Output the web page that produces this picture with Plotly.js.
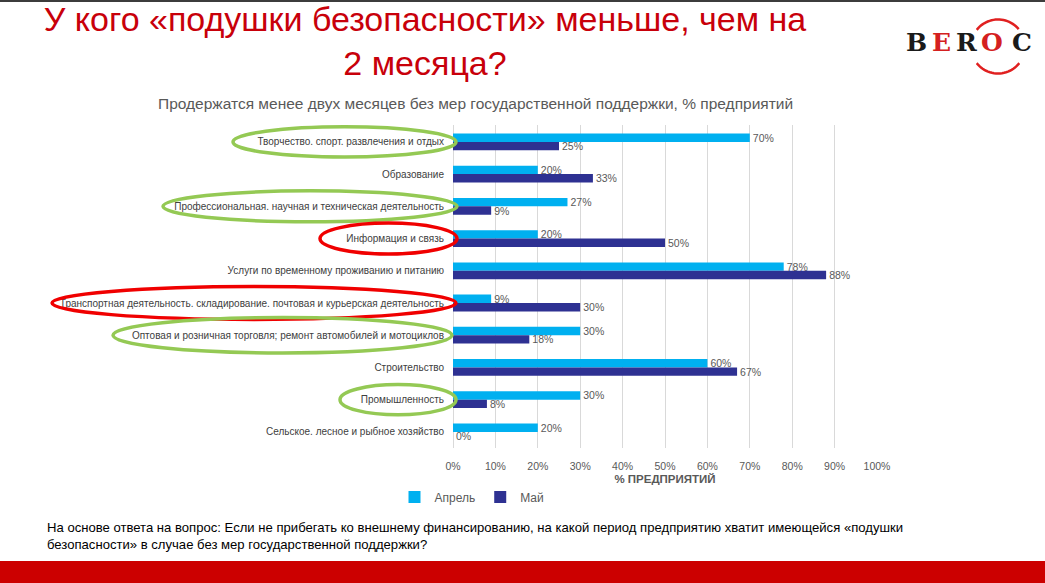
<!DOCTYPE html>
<html>
<head>
<meta charset="utf-8">
<script src="https://cdn.plot.ly/plotly-3.0.1.min.js"></script>
<style>html,body{margin:0;padding:0;background:#fff;}#chart{width:1045px;height:583px;}</style>
</head>
<body>
<div id="chart"></div>
<script>
const categories = [
  "Творчество. спорт. развлечения и отдых",
  "Образование",
  "Профессиональная. научная и техническая деятельность",
  "Информация и связь",
  "Услуги по временному проживанию и питанию",
  "Транспортная деятельность. складирование. почтовая и курьерская деятельность",
  "Оптовая и розничная торговля; ремонт автомобилей и мотоциклов",
  "Строительство",
  "Промышленность",
  "Сельское. лесное и рыбное хозяйство"
];
const seriesNames = ["Апрель", "Май"];
const aprilValues = [70, 20, 27, 20, 78, 9, 30, 60, 30, 20];
const mayValues = [25, 33, 9, 50, 88, 30, 18, 67, 8, 0];
const xTickValues = [0, 10, 20, 30, 40, 50, 60, 70, 80, 90, 100];
const xTickLabels = ["0%", "10%", "20%", "30%", "40%", "50%", "60%", "70%", "80%", "90%", "100%"];

// highlighted categories (index, colour)
const highlighted = [
  {i: 0, c: "green"}, {i: 2, c: "green"}, {i: 3, c: "red"},
  {i: 5, c: "red"}, {i: 6, c: "green"}, {i: 8, c: "green"}
];

// ---- layout geometry (pixels) ----
const W = 1045, H = 583;
const M = {l: 453, r: 168, t: 125, b: 135};
const PW = W - M.l - M.r, PH = H - M.t - M.b;
const xp = px => (px - M.l) / PW;
const yp = py => (H - M.b - py) / PH;

const GREEN = "#94C954", RED = "#F00000";
// ellipse extents (left/right pixel and half height in category units)
const ellipseGeom = [
  {x0: 233, x1: 456, h: 0.47},
  {x0: 163, x1: 457, h: 0.48},
  {x0: 320, x1: 457, h: 0.48},
  {x0: 52,  x1: 456, h: 0.51},
  {x0: 113, x1: 452, h: 0.55},
  {x0: 340, x1: 456, h: 0.47}
];

const shapes = [];
highlighted.forEach((hl, k) => {
  const g = ellipseGeom[k];
  shapes.push({
    type: "circle", xref: "paper", yref: "y",
    x0: xp(g.x0), x1: xp(g.x1), y0: hl.i - g.h, y1: hl.i + g.h,
    line: {color: hl.c === "green" ? GREEN : RED, width: 3.5},
    layer: "above"
  });
});

// top thin line and bottom red band
shapes.push({type: "rect", xref: "paper", yref: "paper", x0: xp(0), x1: xp(W), y0: yp(0), y1: yp(2),
  fillcolor: "#3c3c3c", line: {width: 0}});
shapes.push({type: "rect", xref: "paper", yref: "paper", x0: xp(0), x1: xp(W), y0: yp(561), y1: yp(H),
  fillcolor: "#CC0000", line: {width: 0}});

// logo arcs
function arcPath(cx, cy, r, a0, a1) {
  let d = "";
  const n = 24;
  for (let s = 0; s <= n; s++) {
    const a = (a0 + (a1 - a0) * s / n) * Math.PI / 180;
    const px = cx + r * Math.cos(a), py = cy - r * Math.sin(a);
    d += (s === 0 ? "M" : "L") + xp(px).toFixed(5) + "," + yp(py).toFixed(5);
  }
  return d;
}
shapes.push({type: "path", xref: "paper", yref: "paper", path: arcPath(998, 46.5, 27, 40, 142), line: {color: "#E02020", width: 2.5}});
shapes.push({type: "path", xref: "paper", yref: "paper", path: arcPath(998, 46.5, 27, 218, 322), line: {color: "#E02020", width: 2.5}});

const annotations = [];
annotations.push({
  text: "Продержатся менее двух месяцев без мер государственной поддержки, % предприятий",
  xref: "paper", yref: "paper", x: xp(475), y: yp(103), xanchor: "center", yanchor: "middle",
  showarrow: false, font: {family: "Liberation Sans, Arial, sans-serif", size: 15.5, color: "#595959"}
});
annotations.push({
  text: "На основе ответа на вопрос: Если не прибегать ко внешнему финансированию, на какой период предприятию хватит имеющейся «подушки<br>безопасности» в случае без мер государственной поддержки?",
  xref: "paper", yref: "paper", x: xp(45), y: yp(518), xanchor: "left", yanchor: "top", align: "left",
  showarrow: false, font: {family: "Liberation Sans, Arial, sans-serif", size: 13.1, color: "#000000"}
});
const logoLetters = [["B", 916, "#1a1a1a"], ["E", 941, "#D42020"], ["R", 966, "#1a1a1a"], ["O", 992, "#D42020"], ["C", 1022, "#1a1a1a"]];
logoLetters.forEach(l => annotations.push({
  text: "<b>" + l[0] + "</b>", xref: "paper", yref: "paper", x: xp(l[1]), y: yp(43), xanchor: "center", yanchor: "middle",
  showarrow: false, font: {family: "DejaVu Serif, serif", size: 25, color: l[2]}
}));

const labelFont = {family: "Liberation Sans, Arial, sans-serif", size: 10.5, color: "#595959"};
const traces = [
  {type: "bar", orientation: "h", name: seriesNames[0], y: categories, x: aprilValues,
   marker: {color: "#00B0F0"}, text: aprilValues.map(v => v + "%"), textposition: "outside",
   constraintext: "none", textfont: labelFont, cliponaxis: false},
  {type: "bar", orientation: "h", name: seriesNames[1], y: categories, x: mayValues,
   marker: {color: "#2E3192"}, text: mayValues.map(v => v + "%"), textposition: "outside",
   constraintext: "none", textfont: labelFont, cliponaxis: false}
];

const layout = {
  width: W, height: H, margin: M,
  paper_bgcolor: "#ffffff", plot_bgcolor: "#ffffff",
  font: {family: "Liberation Sans, Arial, sans-serif", color: "#595959"},
  title: {
    text: "У кого «подушки безопасности» меньше, чем на<br>2 месяца?",
    font: {family: "Liberation Sans, Arial, sans-serif", size: 34, color: "#C8000A"},
    x: 425 / W, xanchor: "center", xref: "container",
    y: 1 - 31 / H, yanchor: "top", yref: "container"
  },
  barmode: "group", bargap: 0.48, bargroupgap: 0,
  xaxis: {
    range: [0, 100], tickmode: "array", tickvals: xTickValues, ticktext: xTickLabels,
    showgrid: true, gridcolor: "#D9D9D9", gridwidth: 1,
    zeroline: true, zerolinecolor: "#D9D9D9", showline: false,
    ticks: "outside", ticklen: 8, tickcolor: "rgba(0,0,0,0)",
    tickfont: {size: 10.5, color: "#595959"},
    title: {text: "<b>% ПРЕДПРИЯТИЙ</b>", font: {size: 11.5, color: "#595959"}, standoff: 4},
    fixedrange: true
  },
  yaxis: {
    type: "category", autorange: "reversed", showgrid: false, zeroline: false, showline: false,
    ticks: "outside", ticklen: 6, tickcolor: "rgba(0,0,0,0)",
    tickfont: {size: 10, color: "#404040"}, automargin: false, fixedrange: true
  },
  legend: {
    orientation: "h", x: xp(472), y: yp(497), xanchor: "center", yanchor: "middle",
    font: {size: 12, color: "#595959"}, itemwidth: 30, traceorder: "normal"
  },
  showlegend: true,
  shapes: shapes,
  annotations: annotations
};

Plotly.newPlot("chart", traces, layout, {displayModeBar: false, staticPlot: true});
</script>
</body>
</html>
